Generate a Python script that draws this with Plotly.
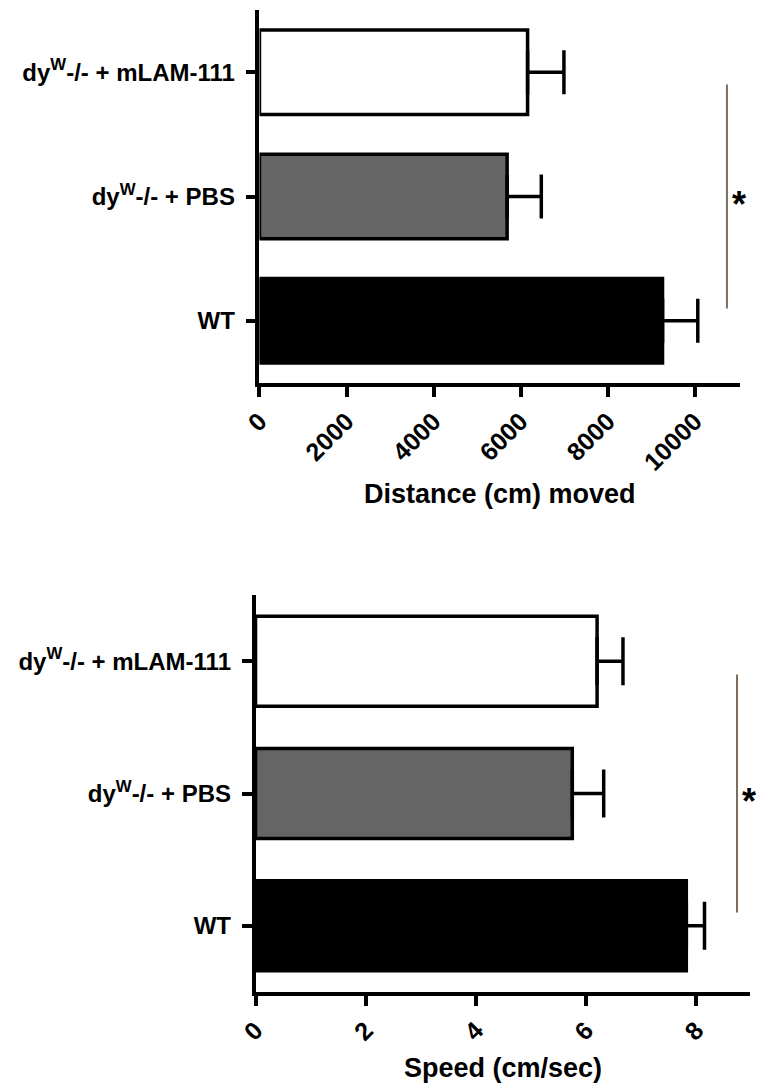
import plotly.graph_objects as go

W, H = 760, 1086

# ---- data ----
groups = ["WT", "dy<sup>W</sup>-/- + PBS", "dy<sup>W</sup>-/- + mLAM-111"]
bar_colors = ["#000000", "#656565", "#ffffff"]

distance_mean = [9260, 5690, 6160]
distance_err = [810, 785, 835]
distance_ticks = [0, 2000, 4000, 6000, 8000, 10000]
distance_ticklabels = ["0", "2000", "4000", "6000", "8000", "10000"]
distance_range = [0, 11050]

speed_mean = [7.82, 5.75, 6.20]
speed_err = [0.33, 0.57, 0.47]
speed_ticks = [0, 2, 4, 6, 8]
speed_ticklabels = ["0", "2", "4", "6", "8"]
speed_range = [0, 8.98]

# significance bracket: spans WT .. mLAM-111 (inset), placed at x value
sig_top_x = 10740
sig_bot_x = 8.74
sig_inset = 0.1

FONT = "Arial, Liberation Sans, sans-serif"


def px_to_paper_y(py):
    return 1 - py / H


fig = go.Figure()

for (xs, errs, xa, ya, cap) in [
    (distance_mean, distance_err, "x", "y", 22),
    (speed_mean, speed_err, "x2", "y2", 24),
]:
    fig.add_trace(go.Bar(
        x=xs, y=groups, orientation="h",
        marker=dict(color=bar_colors, line=dict(color="black", width=3.5)),
        width=0.68,
        error_x=dict(type="data", array=errs, arrayminus=[0] * len(errs),
                     symmetric=False, color="black", thickness=3.5, width=cap),
        xaxis=xa, yaxis=ya, showlegend=False,
    ))

axis_common = dict(
    showline=True, linecolor="black", linewidth=3.5, ticks="outside",
    ticklen=10, tickwidth=3.5, tickcolor="black", showgrid=False, zeroline=False,
)
ytickfont = dict(family=FONT, size=24, color="black", weight="bold")
xtickfont = dict(family=FONT, size=25, color="black", weight="bold")

fig.update_layout(
    width=W, height=H, margin=dict(l=0, r=0, t=0, b=0),
    paper_bgcolor="white", plot_bgcolor="white",
    xaxis=dict(domain=[248 / W, 740 / W], anchor="y", range=distance_range,
               tickvals=distance_ticks, ticktext=distance_ticklabels,
               tickangle=-45, tickfont=xtickfont, **axis_common),
    yaxis=dict(domain=[px_to_paper_y(383), px_to_paper_y(10)], anchor="x",
               range=[-0.5, 2.5], type="category", categoryorder="array",
               categoryarray=groups, ticklabelstandoff=6, tickfont=ytickfont,
               **axis_common),
    xaxis2=dict(domain=[244 / W, 750 / W], anchor="y2", range=speed_range,
                tickvals=speed_ticks, ticktext=speed_ticklabels,
                tickangle=-45, tickfont=xtickfont, **axis_common),
    yaxis2=dict(domain=[px_to_paper_y(992), px_to_paper_y(595)], anchor="x2",
                range=[-0.5, 2.5], type="category", categoryorder="array",
                categoryarray=groups, ticklabelstandoff=6, tickfont=ytickfont,
                **axis_common),
)

# significance lines and asterisks
for xv, xr, yr in [(sig_top_x, "x", "y"), (sig_bot_x, "x2", "y2")]:
    fig.add_shape(type="line", xref=xr, yref=yr, x0=xv, x1=xv,
                  y0=0 + sig_inset, y1=2 - sig_inset,
                  line=dict(color="#7d6e5c", width=2))
    fig.add_annotation(xref=xr, yref=yr, x=xv, y=1, text="*", showarrow=False,
                       xanchor="left", yanchor="middle", xshift=3, yshift=-8,
                       font=dict(family=FONT, size=36, color="black", weight="bold"))

# axis titles
fig.add_annotation(xref="x domain", yref="paper", x=0.5, y=px_to_paper_y(494),
                   text="Distance (cm) moved", showarrow=False, yanchor="middle",
                   font=dict(family=FONT, size=27, color="black", weight="bold"))
fig.add_annotation(xref="x2 domain", yref="paper", x=0.5, y=px_to_paper_y(1068),
                   text="Speed (cm/sec)", showarrow=False, yanchor="middle",
                   font=dict(family=FONT, size=27, color="black", weight="bold"))

fig.write_html("out.html")
